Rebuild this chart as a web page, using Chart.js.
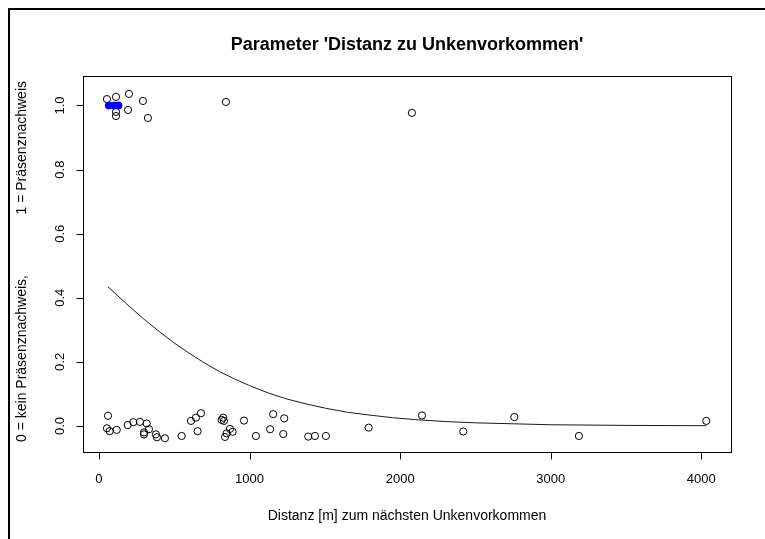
<!DOCTYPE html>
<html>
<head>
<meta charset="utf-8">
<script src="https://cdn.jsdelivr.net/npm/chart.js@4.4.1/dist/chart.umd.min.js"></script>
<style>
    html, body { margin: 0; padding: 0; background: #fff; }
    canvas { display: block; }
</style>
</head>
<body>
<canvas id="distChart" width="765" height="539"></canvas>
<script>
// ---------- data ----------
// observations: distance [m] and jittered presence (0 / 1)
const obsDistanz = [
    53, 113, 199, 292, 113, 113, 193, 325, 843, 2078,
    60, 53, 71, 118, 191, 228, 272, 317, 332, 299, 299, 378, 385, 438, 549,
    611, 644, 677, 655, 815, 825, 830, 870, 888, 848, 837, 963, 1042,
    1157, 1230, 1137, 1224, 1390, 1434, 1507, 1791, 2145, 2419, 2758, 3187, 4033
];
const obsNachweis = [
    1.020, 1.027, 1.036, 1.014, 0.980, 0.967, 0.986, 0.961, 1.011, 0.977,
    0.032, -0.007, -0.016, -0.012, 0.003, 0.012, 0.013, 0.008, -0.010, -0.020, -0.026, -0.026, -0.035, -0.038, -0.031,
    0.016, 0.026, 0.040, -0.016, 0.019, 0.026, 0.016, -0.009, -0.018, -0.023, -0.034, 0.017, -0.031,
    0.037, 0.024, -0.010, -0.025, -0.033, -0.031, -0.031, -0.005, 0.033, -0.017, 0.028, -0.031, 0.016
];

// highlighted points (blue)
const blueDistanz = [65, 100, 115, 130];
const blueNachweis = [1, 1, 1, 1];

// fitted curve
const fitDistanz = [60, 100, 200, 300, 400, 500, 600, 700, 800, 900, 1000, 1125, 1250, 1375, 1500, 1650, 1800, 1950, 2100, 2300, 2500, 3000, 3500, 4033];
const fitWert = [0.434, 0.417, 0.374, 0.333, 0.295, 0.259, 0.227, 0.197, 0.170, 0.147, 0.126, 0.103, 0.084, 0.069, 0.056, 0.043, 0.034, 0.026, 0.020, 0.014, 0.010, 0.004, 0.002, 0.001];

// axes
const xTicks = [0, 1000, 2000, 3000, 4000];
const yTicks = [0, 0.2, 0.4, 0.6, 0.8, 1.0];
const yTickLabels = ["0.0", "0.2", "0.4", "0.6", "0.8", "1.0"];

const titleText = "Parameter 'Distanz zu Unkenvorkommen'";
const xTitle = "Distanz [m] zum nächsten Unkenvorkommen";
const yTitleLow = "0 = kein Präsenznachweis,";
const yTitleHigh = "1 = Präsenznachweis";

const FONT = "'Liberation Sans', Arial, sans-serif";

function toXY(xs, ys) {
    return xs.map((x, i) => ({ x: x, y: ys[i] }));
}

// ---------- R-style axes, box, titles ----------
const rStyle = {
    id: "rStyle",
    afterDraw(chart) {
        const ctx = chart.ctx;
        const a = chart.chartArea;
        const sx = chart.scales.x;
        const sy = chart.scales.y;
        const L = Math.round(a.left) + 0.5;
        const R = Math.round(a.right) + 0.5;
        const T = Math.round(a.top) + 0.5;
        const B = Math.round(a.bottom) + 0.5;

        ctx.save();
        ctx.strokeStyle = "#000";
        ctx.lineWidth = 1;
        ctx.strokeRect(L, T, R - L, B - T);

        // x axis
        ctx.fillStyle = "#000";
        ctx.font = "13px " + FONT;
        ctx.textAlign = "center";
        ctx.textBaseline = "middle";
        ctx.beginPath();
        const x0 = Math.round(sx.getPixelForValue(xTicks[0])) + 0.5;
        const x1 = Math.round(sx.getPixelForValue(xTicks[xTicks.length - 1])) + 0.5;
        ctx.moveTo(x0, B);
        ctx.lineTo(x1, B);
        xTicks.forEach(v => {
            const px = Math.round(sx.getPixelForValue(v)) + 0.5;
            ctx.moveTo(px, B);
            ctx.lineTo(px, B + 7);
        });
        ctx.stroke();
        xTicks.forEach(v => {
            ctx.fillText(String(v), sx.getPixelForValue(v), 479);
        });

        // y axis
        ctx.beginPath();
        yTicks.forEach(v => {
            const py = Math.round(sy.getPixelForValue(v)) + 0.5;
            ctx.moveTo(L, py);
            ctx.lineTo(L - 7, py);
        });
        ctx.stroke();
        yTicks.forEach((v, i) => {
            ctx.save();
            ctx.translate(60, sy.getPixelForValue(v));
            ctx.rotate(-Math.PI / 2);
            ctx.fillText(yTickLabels[i], 0, 0);
            ctx.restore();
        });

        // axis titles
        ctx.font = "14px " + FONT;
        ctx.fillText(xTitle, (a.left + a.right) / 2, 516);
        ctx.save();
        ctx.translate(22, 0);
        ctx.rotate(-Math.PI / 2);
        ctx.textAlign = "left";
        ctx.fillText(yTitleLow, -442, 0);
        ctx.textAlign = "right";
        ctx.fillText(yTitleHigh, -81, 0);
        ctx.restore();

        // main title
        ctx.font = "bold 18px " + FONT;
        ctx.fillText(titleText, (a.left + a.right) / 2, 45);

        // outer frame
        ctx.lineWidth = 2;
        ctx.beginPath();
        ctx.moveTo(9, chart.height);
        ctx.lineTo(9, 9);
        ctx.lineTo(chart.width, 9);
        ctx.stroke();
        ctx.restore();
    }
};

const chart = new Chart(document.getElementById("distChart"), {
    type: "scatter",
    data: {
        datasets: [
            {
                label: "Nachweis (markiert)",
                data: toXY(blueDistanz, blueNachweis),
                pointRadius: 3.5,
                pointBackgroundColor: "#0000ff",
                pointBorderColor: "#0000ff",
                pointBorderWidth: 1
            },
            {
                label: "Beobachtungen",
                data: toXY(obsDistanz, obsNachweis),
                pointRadius: 3.6,
                pointBackgroundColor: "rgba(0,0,0,0)",
                pointBorderColor: "#000000",
                pointBorderWidth: 1
            },
            {
                type: "line",
                label: "Modell",
                data: toXY(fitDistanz, fitWert),
                borderColor: "#1a1a1a",
                borderWidth: 1,
                pointRadius: 0,
                tension: 0,
                fill: false
            }
        ]
    },
    options: {
        responsive: false,
        animation: false,
        devicePixelRatio: 1,
        layout: {
            padding: { left: 83, right: 34, top: 76, bottom: 87 }
        },
        plugins: {
            legend: { display: false },
            tooltip: { enabled: false }
        },
        scales: {
            x: { type: "linear", min: -106, max: 4197, display: false },
            y: { type: "linear", min: -0.081, max: 1.092, display: false }
        }
    },
    plugins: [rStyle]
});
</script>
</body>
</html>
